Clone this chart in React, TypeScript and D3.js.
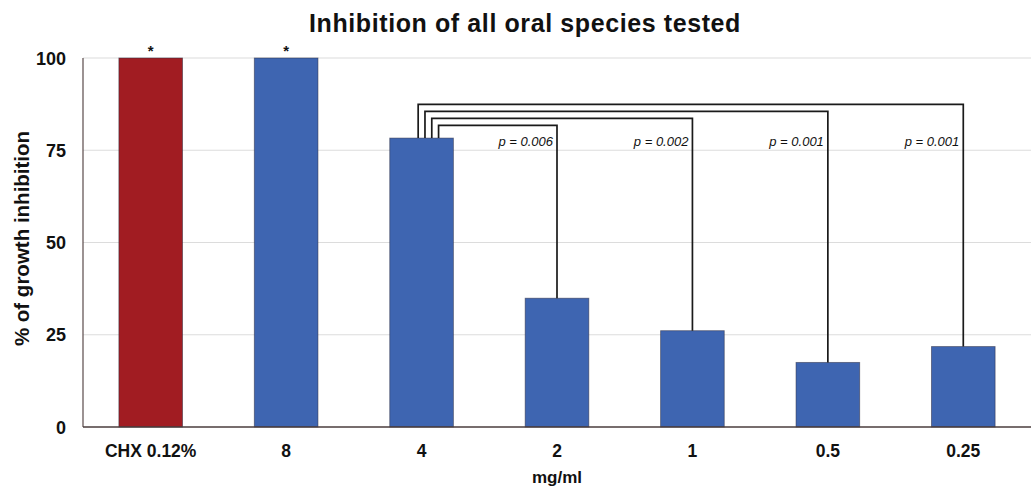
import React from "react";
import * as d3 from "d3";

const categories = ["CHX 0.12%", "8", "4", "2", "1", "0.5", "0.25"];
const values = [100, 100, 78.3, 34.9, 26.1, 17.5, 21.8];
const barColors = ["#a11c22", "#3e65b1", "#3e65b1", "#3e65b1", "#3e65b1", "#3e65b1", "#3e65b1"];
const starred = ["CHX 0.12%", "8"];
const yTicks = [0, 25, 50, 75, 100];
const compareFrom = "4";
const compareTo = ["2", "1", "0.5", "0.25"];
const pLabels = ["p = 0.006", "p = 0.002", "p = 0.001", "p = 0.001"];

const W = 1032;
const H = 486;
const margin = { left: 83, right: 1, top: 58, bottom: 59 };

export default function App() {
  const x = d3
    .scaleBand<string>()
    .domain(categories)
    .range([margin.left, W - margin.right])
    .paddingInner(0.53)
    .paddingOuter(0.265);
  const y = d3.scaleLinear().domain([0, 100]).range([H - margin.bottom, margin.top]);
  const bw = x.bandwidth();
  const cx = (c: string) => (x(c) as number) + bw / 2;
  const font = "'Liberation Sans', Arial, sans-serif";
  const fromIdx = categories.indexOf(compareFrom);
  const fromTop = y(values[fromIdx]);

  return (
    <svg
      width={W}
      height={H}
      style={{ position: "absolute", left: 0, top: 0, background: "#fff" }}
      fontFamily={font}
    >
      <text x={525} y={32} textAnchor="middle" fontSize={25} fontWeight="bold" letterSpacing={0.6} fill="#111">
        Inhibition of all oral species tested
      </text>
      {yTicks.map((t) => (
        <g key={t}>
          {t > 0 && (
            <line x1={margin.left} x2={W - margin.right} y1={y(t)} y2={y(t)} stroke="#dcdcdc" strokeWidth={1.2} />
          )}
          <text x={66} y={y(t) + 6.5} textAnchor="end" fontSize={18} fontWeight="bold" fill="#111">
            {t}
          </text>
        </g>
      ))}
      <text
        transform={`translate(29,${(y(0) + y(100)) / 2 - 4}) rotate(-90)`}
        textAnchor="middle"
        fontSize={20.5}
        fontWeight="bold"
        fill="#111"
      >
        % of growth inhibition
      </text>
      {categories.map((c, i) => (
        <g key={c}>
          <rect
            x={x(c)}
            y={y(values[i])}
            width={bw}
            height={y(0) - y(values[i])}
            fill={barColors[i]}
            stroke="#2a2a40"
            strokeOpacity={0.55}
            strokeWidth={0.9}
          />
          <text x={cx(c)} y={H - margin.bottom + 29.5} textAnchor="middle" fontSize={17.5} fontWeight="bold" fill="#111">
            {c}
          </text>
          {starred.includes(c) && (
            <text x={cx(c)} y={y(values[i]) - 2} textAnchor="middle" fontSize={15} fontWeight="bold" fill="#111">
              *
            </text>
          )}
        </g>
      ))}
      <line x1={margin.left} x2={margin.left} y1={y(100)} y2={y(0)} stroke="#5a4a4a" strokeWidth={1.2} />
      <line x1={margin.left} x2={W - margin.right} y1={y(0)} y2={y(0)} stroke="#4a3d3d" strokeWidth={1.3} />
      {compareTo.map((c, i) => {
        const lx = cx(compareFrom) + 17 - i * 6.8;
        const top = fromTop - 12.7 - i * 7;
        const rx = cx(c);
        const ry = y(values[categories.indexOf(c)]);
        return (
          <g key={c}>
            <path
              d={`M${lx},${fromTop} V${top} H${rx} V${ry}`}
              fill="none"
              stroke="#1a1a1a"
              strokeWidth={1.7}
            />
            <text
              x={rx - 4}
              y={y(75) - 4.5}
              textAnchor="end"
              fontSize={13}
              fontStyle="italic"
              fill="#111"
            >
              {pLabels[i]}
            </text>
          </g>
        );
      })}
      <text x={(margin.left + W - margin.right) / 2} y={483} textAnchor="middle" fontSize={17} fontWeight="bold" fill="#111">
        mg/ml
      </text>
    </svg>
  );
}
